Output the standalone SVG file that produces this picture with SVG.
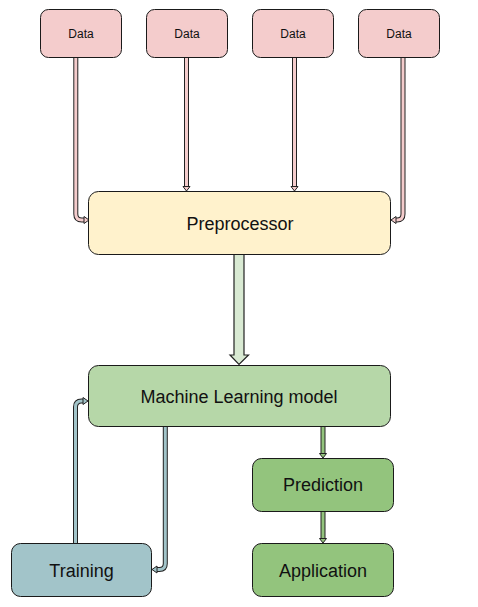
<svg xmlns="http://www.w3.org/2000/svg" width="478" height="607" viewBox="0 0 478 607">
<style>
.box{stroke:#1a1a1a;stroke-width:1}
.t{font-family:"Liberation Sans",Arial,sans-serif;fill:#111;text-anchor:middle}
.s{font-size:12px}
.l{font-size:18px}
.o{fill:none;stroke:#222;stroke-width:5;stroke-linejoin:round}
.i{fill:none;stroke-width:3;stroke-linejoin:round}
.h{stroke:#222;stroke-width:1;stroke-linejoin:miter}
.pink{stroke:#f4cccc}
.teal{stroke:#a2c4c9}
.grn{stroke:#93c47d}
</style>
<rect width="478" height="607" fill="#fff"/>
<g id="connectors">
  <!-- data arrows -->
  <path class="o" d="M75.8,57 V214 Q75.8,220 81.8,220 H84.5"/>
  <path class="i pink" d="M75.8,57 V214 Q75.8,220 81.8,220 H84.5"/>
  <polygon class="h" fill="#f4cccc" points="84,216.5 89,220 84,223.5"/>
  <path class="o" d="M186.5,57 V186.5"/>
  <path class="i pink" d="M186.5,57 V186.5"/>
  <polygon class="h" fill="#f4cccc" points="183,186.5 186.5,191 190,186.5"/>
  <path class="o" d="M294.5,57 V186.5"/>
  <path class="i pink" d="M294.5,57 V186.5"/>
  <polygon class="h" fill="#f4cccc" points="291,186.5 294.5,191 298,186.5"/>
  <path class="o" d="M403,57 V214 Q403,220 397,220 H395.5"/>
  <path class="i pink" d="M403,57 V214 Q403,220 397,220 H395.5"/>
  <polygon class="h" fill="#f4cccc" points="396,216.5 391,220 396,223.5"/>
  <!-- big arrow -->
  <polygon fill="#d9ead3" stroke="#222" stroke-width="1.2" points="234,254 234,355 230,355 239,364.5 248.5,355 244,355 244,254"/>
  <!-- training arrows -->
  <path class="o" d="M75.5,543 V407 Q75.5,401 81.5,401 H83.5"/>
  <path class="i teal" d="M75.5,543 V407 Q75.5,401 81.5,401 H83.5"/>
  <polygon class="h" fill="#a2c4c9" points="83,397.5 88,401 83,404.5"/>
  <path class="o" d="M165.3,427 V563.5 Q165.3,569.5 159.3,569.5 H156.5"/>
  <path class="i teal" d="M165.3,427 V563.5 Q165.3,569.5 159.3,569.5 H156.5"/>
  <polygon class="h" fill="#a2c4c9" points="157,566 152,569.5 157,573"/>
  <!-- prediction arrows -->
  <path class="o" d="M323,427 V453.5"/>
  <path class="i grn" d="M323,427 V453.5"/>
  <polygon class="h" fill="#93c47d" points="319.5,453.5 323,458 326.5,453.5"/>
  <path class="o" d="M323,511 V538.5"/>
  <path class="i grn" d="M323,511 V538.5"/>
  <polygon class="h" fill="#93c47d" points="319.5,538.5 323,543 326.5,538.5"/>
</g>
<g id="data1"><rect class="box" x="40.5" y="9.5" width="81" height="48" rx="8" fill="#f4cccc"/><text class="t s" x="81" y="37.5">Data</text></g>
<g id="data2"><rect class="box" x="146.5" y="9.5" width="81" height="48" rx="8" fill="#f4cccc"/><text class="t s" x="187" y="37.5">Data</text></g>
<g id="data3"><rect class="box" x="252.5" y="9.5" width="81" height="48" rx="8" fill="#f4cccc"/><text class="t s" x="293" y="37.5">Data</text></g>
<g id="data4"><rect class="box" x="358.5" y="9.5" width="81" height="48" rx="8" fill="#f4cccc"/><text class="t s" x="399" y="37.5">Data</text></g>
<g id="preprocessor"><rect class="box" x="88.5" y="191.5" width="302" height="63" rx="10" fill="#fff2cc"/><text class="t l" x="240" y="230">Preprocessor</text></g>
<g id="ml"><rect class="box" x="88.5" y="365.5" width="302" height="61" rx="10" fill="#b6d7a8"/><text class="t l" x="239" y="402.5">Machine Learning model</text></g>
<g id="training"><rect class="box" x="11.5" y="543.5" width="140" height="53" rx="9" fill="#a2c4c9"/><text class="t l" x="81.5" y="576.5">Training</text></g>
<g id="prediction"><rect class="box" x="252.5" y="458.5" width="141" height="53" rx="9" fill="#93c47d"/><text class="t l" x="323" y="491">Prediction</text></g>
<g id="application"><rect class="box" x="252.5" y="543.5" width="141" height="53" rx="9" fill="#93c47d"/><text class="t l" x="323" y="576.5">Application</text></g>
</svg>
